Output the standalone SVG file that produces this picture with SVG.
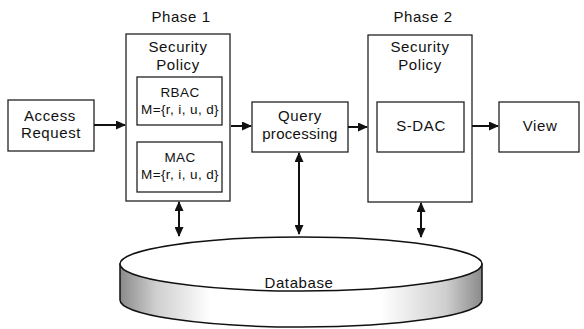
<svg xmlns="http://www.w3.org/2000/svg" width="584" height="329" viewBox="0 0 584 329">
<style>
text{font-family:"Liberation Sans",Arial,sans-serif;fill:#111;text-anchor:middle}
.t{font-size:15px;letter-spacing:0.6px}
.s{font-size:13.5px;letter-spacing:0.4px}
.box{fill:#fff;stroke:#222;stroke-width:1.3}
.c{stroke:#111;stroke-width:2;fill:none}
</style>
<defs>
<marker id="ah" viewBox="0 0 10 10" refX="9" refY="5" markerWidth="5" markerHeight="4.5" orient="auto-start-reverse" markerUnits="strokeWidth" preserveAspectRatio="none">
<path d="M0,0 L10,5 L0,10 z" fill="#111"/>
</marker>
<linearGradient id="side" x1="0" y1="0" x2="1" y2="0">
<stop offset="0" stop-color="#8a8a8a"/>
<stop offset="0.1" stop-color="#cfcfcf"/>
<stop offset="0.25" stop-color="#fff"/>
<stop offset="0.72" stop-color="#fff"/>
<stop offset="0.9" stop-color="#cfcfcf"/>
<stop offset="1" stop-color="#8a8a8a"/>
</linearGradient>
</defs>
<g id="database">
<path d="M120,264 L120,300 A181,27 0 0 0 482,300 L482,264 Z" fill="url(#side)" stroke="#111" stroke-width="1.5"/>
<ellipse cx="301" cy="264" rx="181" ry="27" fill="#fff" stroke="#111" stroke-width="1.5"/>
<text class="t" x="299" y="288">Database</text>
</g>
<g id="access-request">
<rect class="box" x="8" y="100" width="86" height="51"/>
<text class="t" x="50" y="121">Access</text>
<text class="t" x="51" y="138">Request</text>
</g>
<g id="phase1">
<text class="t" x="181" y="22">Phase 1</text>
<rect class="box" x="126" y="34" width="104" height="167"/>
<text class="t" x="178" y="52">Security</text>
<text class="t" x="178" y="70">Policy</text>
</g>
<g id="rbac">
<rect class="box" x="137" y="77" width="85" height="48"/>
<text class="s" x="180" y="97">RBAC</text>
<text class="s" x="180" y="114">M={r, i, u, d}</text>
</g>
<g id="mac">
<rect class="box" x="137" y="142" width="85" height="50"/>
<text class="s" x="180" y="162">MAC</text>
<text class="s" x="180" y="179">M={r, i, u, d}</text>
</g>
<g id="query">
<rect class="box" x="252" y="102" width="96" height="50"/>
<text class="t" x="300" y="121">Query</text>
<text class="t" x="300" y="139" style="letter-spacing:0.3px">processing</text>
</g>
<g id="phase2">
<text class="t" x="423" y="22">Phase 2</text>
<rect class="box" x="368" y="35" width="104" height="167"/>
<text class="t" x="420" y="52">Security</text>
<text class="t" x="420" y="70">Policy</text>
</g>
<g id="sdac">
<rect class="box" x="377" y="102" width="87" height="50"/>
<text class="t" x="421" y="131">S-DAC</text>
</g>
<g id="view">
<rect class="box" x="499" y="102" width="80" height="50"/>
<text class="t" x="540" y="131">View</text>
</g>
<g id="connectors">
<line class="c" x1="94" y1="125" x2="125" y2="125" marker-end="url(#ah)"/>
<line class="c" x1="231" y1="126" x2="251" y2="126" marker-end="url(#ah)"/>
<line class="c" x1="348" y1="127" x2="367" y2="127" marker-end="url(#ah)"/>
<line class="c" x1="472" y1="126" x2="498" y2="126" marker-end="url(#ah)"/>
<line class="c" x1="179" y1="202" x2="179" y2="236" marker-start="url(#ah)" marker-end="url(#ah)"/>
<line class="c" x1="299" y1="153" x2="299" y2="234" marker-start="url(#ah)" marker-end="url(#ah)"/>
<line class="c" x1="421" y1="203" x2="421" y2="237" marker-start="url(#ah)" marker-end="url(#ah)"/>
</g>
</svg>
